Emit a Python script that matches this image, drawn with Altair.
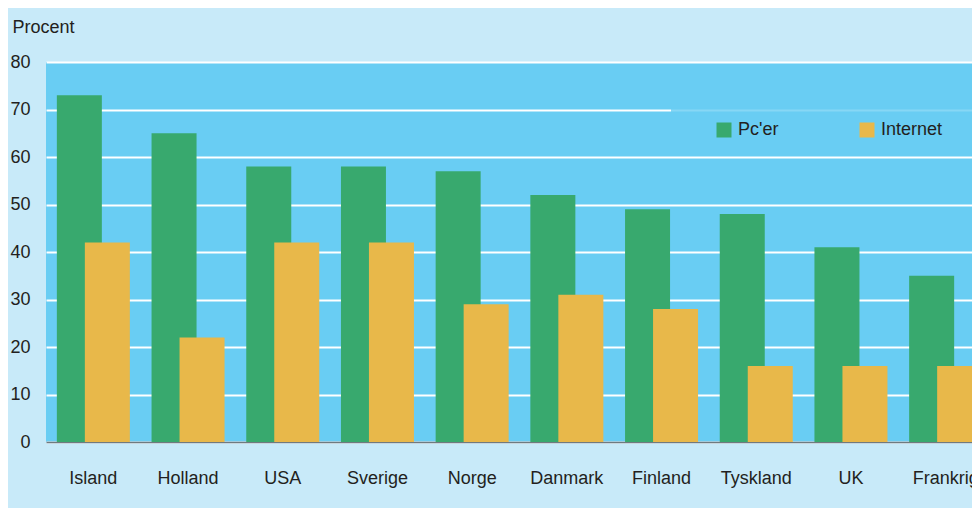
import altair as alt
import pandas as pd

countries = ["Island", "Holland", "USA", "Sverige", "Norge", "Danmark", "Finland", "Tyskland", "UK", "Frankrig"]
pcer = [73, 65, 58, 58, 57, 52, 49, 48, 41, 35]
internet = [42, 22, 42, 42, 29, 31, 28, 16, 16, 16]
series_names = ["Pc'er", "Internet"]
series_colors = ["#38a96e", "#e8b84a"]
y_ticks = [0, 10, 20, 30, 40, 50, 60, 70, 80]

rows = []
for c, p, i in zip(countries, pcer, internet):
    rows.append({"land": c, "serie": "Pc'er", "procent": p})
    rows.append({"land": c, "serie": "Internet", "procent": i})
df = pd.DataFrame(rows)

TEXT = "#231f20"

x_enc = alt.X(
    "land:N", sort=countries,
    scale=alt.Scale(range=[0, 947], paddingInner=0, paddingOuter=0),
    axis=alt.Axis(title=None, labelAngle=0, ticks=False, labelPadding=27,
                  labelFontSize=18, labelColor=TEXT, domainColor="#6f7a80",
                  domainWidth=1.5, grid=False),
)
y_enc = alt.Y(
    "procent:Q", scale=alt.Scale(domain=[0, 80], nice=False),
    axis=alt.Axis(values=y_ticks, title="Procent", titleAngle=0, titleAlign="left",
                  titleBaseline="middle", titleX=-34, titleY=-35, titleFontSize=18,
                  titleFontWeight="normal", titleColor=TEXT, labelFontSize=18,
                  labelColor=TEXT, labelPadding=16, ticks=False, domain=False,
                  gridColor="white", gridWidth=2, gridOpacity=1),
)
color_enc = alt.Color(
    "serie:N", scale=alt.Scale(domain=series_names, range=series_colors),
    legend=alt.Legend(title=" ", titleOrient="right", titlePadding=40, titleFontSize=18,
                      orient="none", legendX=625, legendY=46,
                      direction="horizontal", columns=2, symbolType="square",
                      symbolSize=225, symbolStrokeWidth=0, labelFontSize=18,
                      labelColor=TEXT, fillColor="rgba(105,205,243,0.8)",
                      padding=13, symbolOffset=31, labelOffset=5,
                      columnPadding=27, gridAlign="all"),
)

base = alt.Chart(df).encode(x=x_enc, y=y_enc, color=color_enc)

green = base.transform_filter(alt.FieldEqualPredicate(field="serie", equal="Pc'er")).mark_bar(
    size=45, xOffset=-14, clip=True)
yellow = base.transform_filter(alt.FieldEqualPredicate(field="serie", equal="Internet")).mark_bar(
    size=45, xOffset=14, clip=True)

chart = alt.layer(green, yellow).properties(
    width=926, height=380,
    autosize=alt.AutoSizeParams(type="none"),
    padding={"left": 38, "top": 54, "right": 0, "bottom": 66},
).configure(
    background="#c8eaf9", font="Liberation Sans"
).configure_view(fill="#69cdf3", stroke=None)

chart.save("out.html", embed_options={"renderer": "svg", "actions": False})
